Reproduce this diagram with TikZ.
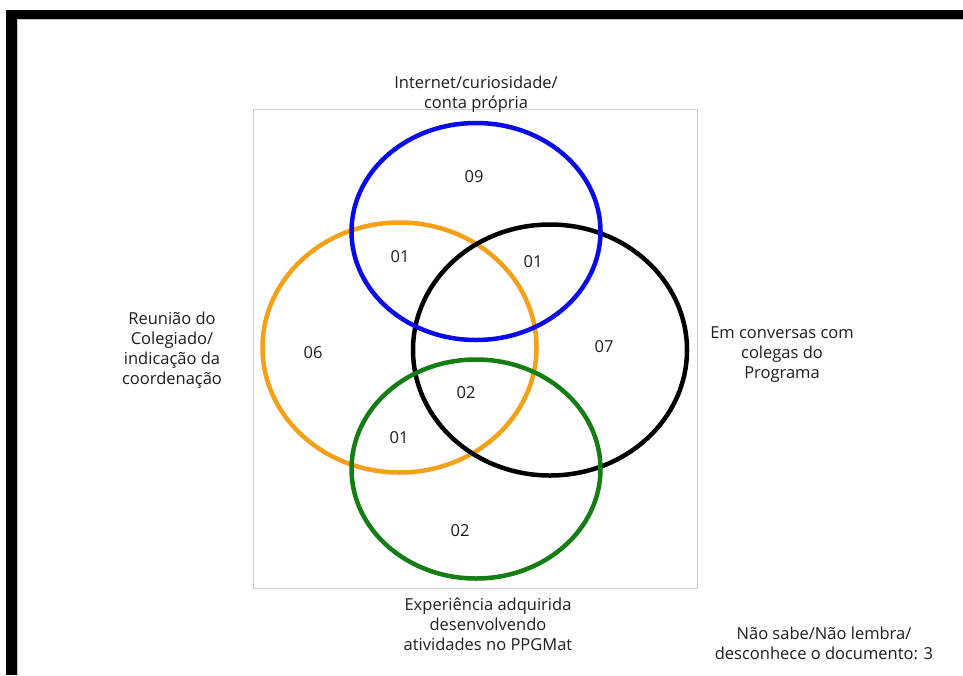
\documentclass[tikz,border=0pt]{standalone}
\usepackage{fontspec}
\setmainfont{Open Sans}
\definecolor{venn_blue}{RGB}{10,10,235}
\definecolor{venn_orange}{RGB}{245,160,25}
\definecolor{venn_green}{RGB}{20,125,20}
\definecolor{venn_text}{RGB}{30,30,30}
\newcommand{\vennring}[6]{% #1 = Name, #2 = Farbe, #3 = x, #4 = y, #5 = rx, #6 = ry
  \draw[#2, line width=4.5pt] (#3,#4) ellipse ({#5pt} and {#6pt});
  \coordinate (#1) at (#3,#4);
}
\tikzset{
  lbl/.style={font=\fontsize{16.5}{20}\selectfont, text=venn_text, align=center, inner sep=0pt},
  num/.style={font=\fontsize{16.5}{20}\selectfont, text=venn_text, inner sep=0pt}
}
\begin{document}
\begin{tikzpicture}[x=1pt, y=-1pt]
    \useasboundingbox (0,0) rectangle (963,675);
    \fill[white] (0,0) rectangle (963,675);
    % Rahmen
    \fill[black] (6,9.5) rectangle (963,19);
    \fill[black] (6,9.5) rectangle (17,675);
    \draw[gray!45, line width=0.8pt] (17,19.6) -- (963,19.6);
    \draw[gray!45, line width=0.8pt] (17.6,19) -- (17.6,675);
    \draw[gray!40, line width=1pt] (253,109) rectangle (697,588);
    % Mengen
    \vennring{reuniao}{venn_orange}{399.5}{347.5}{137}{125}
    \vennring{conversas}{black}{550}{350}{137}{125.5}
    \vennring{experiencia}{venn_green}{476}{469}{124.5}{109.5}
    \vennring{internet}{venn_blue}{476}{231.5}{124.5}{108.5}
    % Anzahlen
    \node[num] (n09) at (474,177) {09};
    \node[num] (n01a) at (400,257) {01};
    \node[num] (n01b) at (533,262) {01};
    \node[num] (n06) at (313,353) {06};
    \node[num] (n07) at (604,347) {07};
    \node[num] (n02a) at (466,393) {02};
    \node[num] (n01c) at (399,438) {01};
    \node[num] (n02b) at (460,531) {02};
    % Beschriftungen
    \node[lbl] (t_internet) at (476,94) {Internet/curiosidade/\\conta própria};
    \node[lbl] (t_reuniao) at (172,350) {Reunião do\\Colegiado/\\indicação da\\coordenação};
    \node[lbl] (t_conversas) at (782,355) {Em conversas com\\colegas do\\Programa};
    \node[lbl] (t_experiencia) at (488,624) {Experiência adquirida\\desenvolvendo\\atividades no PPGMat};
    \node[lbl] (t_naosabe) at (824,643) {Não sabe/Não lembra/\\desconhece o documento: 3};
\end{tikzpicture}
\end{document}
